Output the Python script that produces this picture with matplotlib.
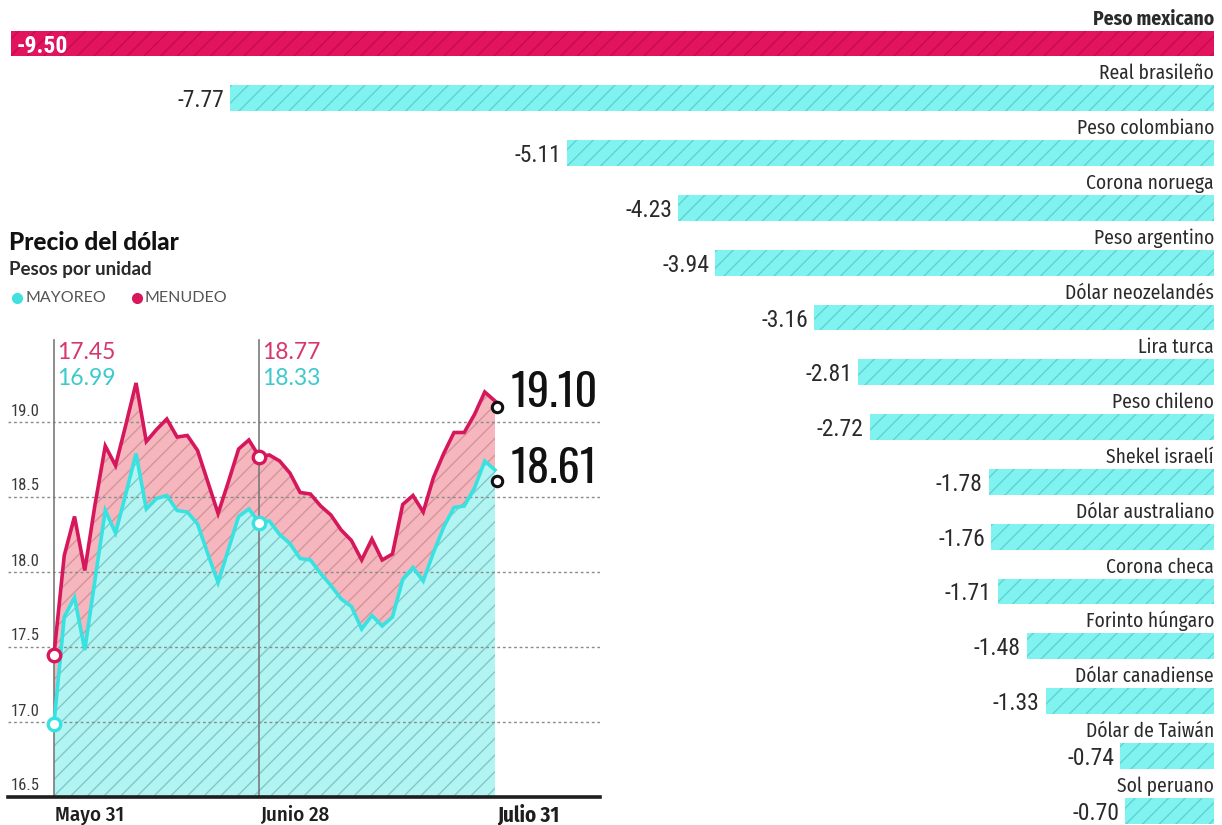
import matplotlib
matplotlib.use("Agg")
import matplotlib.pyplot as plt
from matplotlib import font_manager as fm

# ---------------- data ----------------
currencies = ["Peso mexicano", "Real brasileño", "Peso colombiano", "Corona noruega",
              "Peso argentino", "Dólar neozelandés", "Lira turca", "Peso chileno",
              "Shekel israelí", "Dólar australiano", "Corona checa", "Forinto húngaro",
              "Dólar canadiense", "Dólar de Taiwán", "Sol peruano"]
changes = [-9.50, -7.77, -5.11, -4.23, -3.94, -3.16, -2.81, -2.72,
           -1.78, -1.76, -1.71, -1.48, -1.33, -0.74, -0.70]

menudeo = [17.45, 18.11, 18.37, 18.01, 18.45, 18.84, 18.71, 18.98, 19.26, 18.87,
           18.95, 19.02, 18.90, 18.91, 18.81, 18.60, 18.39, 18.60, 18.82, 18.88,
           18.77, 18.78, 18.74, 18.66, 18.53, 18.52, 18.44, 18.38, 18.28, 18.21,
           18.08, 18.22, 18.08, 18.12, 18.45, 18.51, 18.40, 18.63, 18.79, 18.93,
           18.93, 19.05, 19.20, 19.14]
mayoreo = [16.99, 17.70, 17.83, 17.48, 17.95, 18.41, 18.26, 18.52, 18.79, 18.42,
           18.49, 18.51, 18.41, 18.40, 18.32, 18.12, 17.93, 18.15, 18.37, 18.42,
           18.33, 18.34, 18.25, 18.19, 18.09, 18.08, 17.99, 17.91, 17.82, 17.77,
           17.62, 17.71, 17.64, 17.70, 17.95, 18.03, 17.94, 18.13, 18.30, 18.43,
           18.44, 18.56, 18.74, 18.68]
close_menudeo = 19.10
close_mayoreo = 18.61
y_ticks = [16.5, 17.0, 17.5, 18.0, 18.5, 19.0]
x_tick_idx = [0, 20, 43]
x_tick_labels = ["Mayo 31", "Junio 28", "Julio 31"]

# ---------------- fonts ----------------
available = {f.name for f in fm.fontManager.ttflist}
def pick(*cands):
    for c in cands:
        if c in available:
            return c
    return "DejaVu Sans"

F_SANS = pick("Lato", "Open Sans", "Noto Sans", "DejaVu Sans")
F_NARROW = pick("Fira Sans Condensed", "PT Sans Narrow", "Asap Condensed",
                "Barlow Semi Condensed", "Archivo Narrow", F_SANS)
F_COND = pick("Roboto Condensed", "Barlow Semi Condensed", "Asap Condensed",
              "Archivo Narrow", F_NARROW)
F_BIG = pick("Oswald", "Antonio", "Pathway Gothic One", "League Gothic",
             "Barlow Condensed", F_COND)

W, H = 1222, 825
plt.rcParams["hatch.linewidth"] = 1.0

def P(x, y):
    return (x / W, 1 - y / H)

fig = plt.figure(figsize=(W / 100, H / 100), dpi=100)

# ---------------- bar chart (full figure) ----------------
PX_UNIT = 126.6          # pixels per percentage point
RIGHT_PX = 1214
ROW0_PX, ROW_PX = 43.5, 54.8
axb = fig.add_axes([0, 0, 1, 1])
axb.set_xlim(-RIGHT_PX / PX_UNIT, (W - RIGHT_PX) / PX_UNIT)
axb.set_ylim((H - ROW0_PX) / ROW_PX, -ROW0_PX / ROW_PX)
axb.axis("off")

rows = list(range(len(currencies)))
face = ["#E2145E"] + ["#80F2F0"] * (len(currencies) - 1)
hatchc = ["#C70A50"] + ["#5DD3D4"] * (len(currencies) - 1)
BAR_H = 0.47
axb.barh(rows, changes, height=BAR_H, color=face, edgecolor=hatchc,
         hatch="//", linewidth=0)

gap_px = 6
for i, (name, v) in enumerate(zip(currencies, changes)):
    axb.text(0, i - BAR_H / 2 - 6 / ROW_PX, name, ha="right", va="baseline",
             fontsize=14, family=F_NARROW, color="#2a2a2a",
             fontweight="bold" if i == 0 else "normal")
    if i == 0:
        axb.text(v + 5 / PX_UNIT, i + 9 / ROW_PX, f"{v:.2f}", ha="left",
                 va="baseline", fontsize=17, family=F_COND, color="white",
                 fontweight="bold")
    else:
        axb.text(v - gap_px / PX_UNIT, i + 9 / ROW_PX, f"{v:.2f}", ha="right",
                 va="baseline", fontsize=17, family=F_COND, color="#2a2a2a")

# ---------------- line chart ----------------
X0_PX, XSTEP = 54, (495 - 54) / 43
AX_L, AX_R, AX_B, AX_T = 8, 600, 797, 330
axl = fig.add_axes([AX_L / W, (H - AX_B) / H, (AX_R - AX_L) / W, (AX_B - AX_T) / H])
axl.patch.set_alpha(0)
axl.set_xlim((AX_L - X0_PX) / XSTEP, (AX_R - X0_PX) / XSTEP)
Y_PX = 150.0
axl.set_ylim(16.5, 16.5 + (AX_B - AX_T) / Y_PX)
for s in axl.spines.values():
    s.set_visible(False)
axl.set_xticks([])
axl.set_yticks([])

x = list(range(len(menudeo)))
CYAN_LINE = "#38E2E0"
PINK_LINE = "#D6175C"
axl.fill_between(x, 16.5, mayoreo, facecolor="#B2F4F2", edgecolor="#80C8C9",
                 hatch="//", linewidth=0, zorder=1)
axl.fill_between(x, mayoreo, menudeo, facecolor="#F5B6BD", edgecolor="#D4949C",
                 hatch="//", linewidth=0, zorder=1)

for v in y_ticks[1:]:
    axl.axhline(v, color="#8a8a8a", lw=1.0, ls=(0, (2, 2)), zorder=2)
axl.axhline(16.5, color="#1e1e1e", lw=2.6, zorder=5, clip_on=False)

for v in y_ticks:
    axl.text(0.004, v + 11 / Y_PX, f"{v:.1f}", transform=axl.get_yaxis_transform(),
             ha="left", va="center", fontsize=12, family=F_COND, color="#3a3a3a")

top_val = 16.5 + (AX_B - 340) / Y_PX
for xi in x_tick_idx[:2]:
    axl.plot([xi, xi], [16.5, top_val], color="#7a7a7a", lw=1.2, zorder=3,
             clip_on=False)

axl.plot(x, mayoreo, color=CYAN_LINE, lw=2.6, zorder=4, solid_joinstyle="miter")
axl.plot(x, menudeo, color=PINK_LINE, lw=2.6, zorder=4, solid_joinstyle="miter")

for xi in x_tick_idx[:2]:
    axl.plot(xi, mayoreo[xi], marker="o", ms=9, mfc="white", mec=CYAN_LINE,
             mew=2.4, zorder=6, clip_on=False)
    axl.plot(xi, menudeo[xi], marker="o", ms=9, mfc="white", mec=PINK_LINE,
             mew=2.4, zorder=6, clip_on=False)

xe = x[-1] + 0.2
axl.plot(xe, close_menudeo, marker="o", ms=7.5, mfc="white", mec="#111111",
         mew=2.2, zorder=7, clip_on=False)
axl.plot(xe, close_mayoreo, marker="o", ms=7.5, mfc="white", mec="#111111",
         mew=2.2, zorder=7, clip_on=False)

# x labels
for xi, lab in zip(x_tick_idx, x_tick_labels):
    px = X0_PX + xi * XSTEP + (2 if xi == x_tick_idx[-1] else 1)
    fig.text(*P(px, 815), lab, ha="left", va="center", fontsize=15,
             family=F_NARROW, fontweight="bold" if xi == x_tick_idx[-1] else "medium",
             color="#1e1e1e")

# value annotations
PINK_TXT = "#D8346E"
CYAN_TXT = "#3CCACA"
for xi in x_tick_idx[:2]:
    px = X0_PX + xi * XSTEP + 3
    fig.text(*P(px, 352), f"{menudeo[xi]:.2f}", ha="left", va="center",
             fontsize=16.5, family=F_SANS, color=PINK_TXT)
    fig.text(*P(px, 378), f"{mayoreo[xi]:.2f}", ha="left", va="center",
             fontsize=16.5, family=F_SANS, color=CYAN_TXT)

fig.text(*P(511, 407), f"{close_menudeo:.2f}", ha="left", va="baseline",
         fontsize=32, family=F_BIG, color="#111111", fontweight="medium")
fig.text(*P(511, 483), f"{close_mayoreo:.2f}", ha="left", va="baseline",
         fontsize=32, family=F_BIG, color="#111111", fontweight="medium")

# titles & legend
fig.text(*P(9, 243), "Precio del dólar", ha="left", va="center", fontsize=17.5,
         family=F_SANS, fontweight="black", color="#111111")
fig.text(*P(9, 270), "Pesos por unidad", ha="left", va="center", fontsize=13.5,
         family=F_SANS, fontweight="bold", color="#2a2a2a")
axb.plot(*P(17, 298), marker="o", ms=7, color="#3EE0E0", transform=fig.transFigure,
         clip_on=False)
fig.text(*P(25, 298), "MAYOREO", ha="left", va="center", fontsize=11.5,
         family=F_SANS, color="#555555")
axb.plot(*P(137, 298), marker="o", ms=7, color="#D8185C", transform=fig.transFigure,
         clip_on=False)
fig.text(*P(145, 298), "MENUDEO", ha="left", va="center", fontsize=11.5,
         family=F_SANS, color="#555555")

fig.savefig("out.png", dpi=100)
